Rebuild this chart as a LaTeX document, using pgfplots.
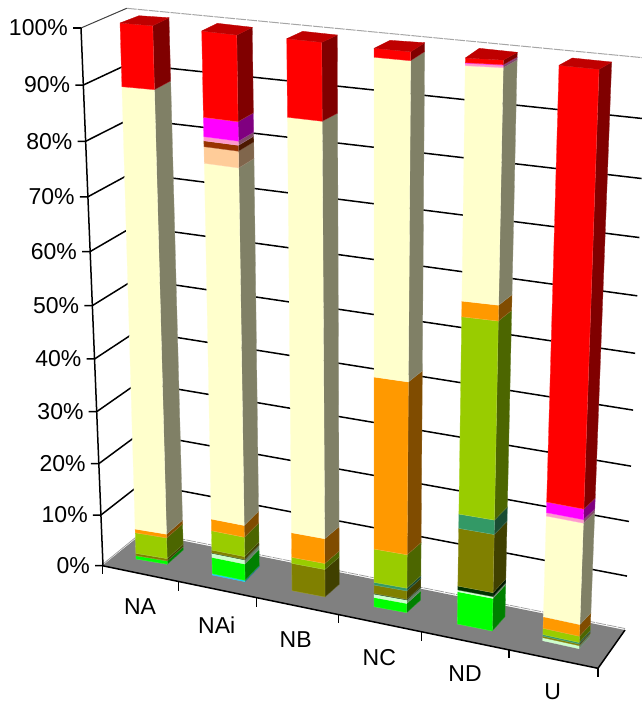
\documentclass[border=0pt]{standalone}
\usepackage{pgfplots}
\pgfplotsset{compat=1.18}
\usepackage{pgfplotstable}
\usepackage{fontspec}
\setmainfont{Liberation Sans}

% Series colours, bottom of the stack first
\definecolor{s1}{HTML}{00CCFF}
\definecolor{s2}{HTML}{00FF00}
\definecolor{s3}{HTML}{CCFFCC}
\definecolor{s4}{HTML}{003300}
\definecolor{s5}{HTML}{808000}
\definecolor{s6}{HTML}{339966}
\definecolor{s7}{HTML}{99CC00}
\definecolor{s8}{HTML}{FF9900}
\definecolor{s9}{HTML}{FFFFCC}
\definecolor{s10}{HTML}{FFCC99}
\definecolor{s11}{HTML}{993300}
\definecolor{s12}{HTML}{FF99CC}
\definecolor{s13}{HTML}{FF00FF}
\definecolor{s14}{HTML}{FF0000}

\tikzset{lab/.style={font=\fontsize{23}{25}\selectfont, text=black, inner sep=0pt}}

% Share of each series per category, in percent
\pgfplotstableread{
name c1   c2   c3   c4   c5    c6   c7    c8    c9    c10  c11  c12  c13  c14
NA   0    0.66 0    0    0.47  0    4.09  0.73  82.83 0    0    0    0    11.22
NAi  0.25 3.20 0.80 0.10 0.54  0    3.75  2.27  65.95 2.94 1.06 0.71 3.42 15.01
NB   0    0    0    0    5.28  0    1.15  4.71  75.40 0    0    0    0    13.46
NC   0    1.76 0.66 0.12 1.60  0.51 6.30  31.77 55.77 0    0    0    0    1.51
ND   0    6.07 0.32 0.74 10.71 2.63 35.43 2.75  40.08 0    0    0.39 0.10 0.78
U    0    0    0.56 0    0.30  0.29 1.15  2.14  18.35 0    0    0.61 1.91 74.69
}\bars

% Perspective foreshortening along the value axis
\def\persp{0.063}
\newcommand\prj[1]{\pgfmathsetmacro\F{(#1/100)*(1-\persp)/(1-\persp*#1/100)}}

% Bar frame: front-left, front-right and back-right edges (x,y at 0 and 100 percent),
% followed by the back-left corner of the top face
\newcommand\frontleft[4]{\def\lxa{#1}\def\lya{#2}\def\lxb{#3}\def\lyb{#4}}
\newcommand\frontright[4]{\def\mxa{#1}\def\mya{#2}\def\mxb{#3}\def\myb{#4}}
\newcommand\backright[4]{\def\rxa{#1}\def\rya{#2}\def\rxb{#3}\def\ryb{#4}}
\newcommand\edgepts{%
  \pgfmathsetmacro\nLx{\lxa+(\lxb-\lxa)*\F}\pgfmathsetmacro\nLy{\lya+(\lyb-\lya)*\F}%
  \pgfmathsetmacro\nMx{\mxa+(\mxb-\mxa)*\F}\pgfmathsetmacro\nMy{\mya+(\myb-\mya)*\F}%
  \pgfmathsetmacro\nRx{\rxa+(\rxb-\rxa)*\F}\pgfmathsetmacro\nRy{\rya+(\ryb-\rya)*\F}}
\newcommand\drawbar[3]{%
  \def\cum{0}\prj{0}\edgepts
  \let\Lx\nLx\let\Ly\nLy\let\Mx\nMx\let\My\nMy\let\Rx\nRx\let\Ry\nRy
  \pgfplotsforeachungrouped \k in {1,...,14}{%
    \edef\colname{c\k}%
    \pgfplotstablegetelem{#1}{\colname}\of\bars
    \let\val\pgfplotsretval
    \ifdim\val pt>0pt
      \pgfmathsetmacro\cum{\cum+\val}%
      \prj{\cum}\edgepts
      \edef\cmd{\noexpand\addplot[fill=s\k!50!black,draw=s\k!50!black!80!white,line width=.3pt,forget plot]
        coordinates {(\Mx,\My) (\Rx,\Ry) (\nRx,\nRy) (\nMx,\nMy) (\Mx,\My)};}\cmd
      \edef\cmd{\noexpand\addplot[fill=s\k,draw=s\k!75!white,line width=.3pt,forget plot]
        coordinates {(\Lx,\Ly) (\Mx,\My) (\nMx,\nMy) (\nLx,\nLy) (\Lx,\Ly)};}\cmd
      \let\Lx\nLx\let\Ly\nLy\let\Mx\nMx\let\My\nMy\let\Rx\nRx\let\Ry\nRy
    \fi}%
  \edef\cmd{\noexpand\addplot[fill=s14!75!black,draw=s14!75!black,line width=.3pt,forget plot]
    coordinates {(\lxb,\lyb) (\mxb,\myb) (\rxb,\ryb) (#2,#3) (\lxb,\lyb)};}\cmd
}

\begin{document}
\begin{tikzpicture}
\path[use as bounding box] (0,0) rectangle (642pt,702pt);
\begin{axis}[
  at={(0,0)}, anchor=south west,
  hide axis, scale only axis, width=642pt, height=702pt,
  xmin=0, xmax=642, ymin=0, ymax=702, y dir=reverse,
  clip=true,
]
% Floor
\addplot[fill=black!50, draw=none, forget plot] coordinates {(102.3,565.7) (143.2,532.7) (625,630) (598,668.3) (102.3,565.7)};

% Outlines of the walls
\addplot[black!35, line width=1pt, dash pattern=on 10pt off 1pt, forget plot] coordinates {(126.7,8.3) (646,58)};
\addplot[black!40, line width=.7pt, dash pattern=on 10pt off 1pt, forget plot] coordinates {(143.2,531.2) (625,628.5)};
\addplot[black!40, line width=.7pt, forget plot] coordinates {(103,564) (143.2,531.2)};
\addplot[black!75, line width=1pt, forget plot] coordinates {(81,28) (126.7,8.3)};

% Gridlines over side wall and back wall, with ticks and labels on the value axis
\pgfplotsforeachungrouped \v in {10,20,...,90}{%
  \prj{\v}%
  \pgfmathsetmacro\ax{103-22*\F}\pgfmathsetmacro\ay{565.7-537.7*\F}%
  \pgfmathsetmacro\bx{143.2-16.5*\F}\pgfmathsetmacro\by{532.7-524.4*\F}%
  \pgfmathsetmacro\cx{625+21*\F}\pgfmathsetmacro\cy{630-572*\F}%
  \pgfmathsetmacro\tx{\ax-8}%
  \edef\cmd{\noexpand\addplot[black,line width=1.5pt,forget plot] coordinates {(\tx,\ay) (\ax,\ay) (\bx,\by) (\cx,\cy)};}\cmd
}
\pgfplotsforeachungrouped \v in {0,10,...,100}{%
  \prj{\v}%
  \pgfmathsetmacro\lbx{103-22*\F-13}\pgfmathsetmacro\lby{565.7-537.7*\F}%
  \edef\cmd{\noexpand\node[lab,anchor=east] at (axis cs:\lbx,\lby) {\v\noexpand\%};}\cmd
}

% Value axis, category axis and the right floor edge
\addplot[black, line width=1.5pt, forget plot] coordinates {(81,28) (103,565.7)};
\addplot[black, line width=1.5pt, forget plot] coordinates {(73,28) (81,28)};
\addplot[black, line width=1.5pt, forget plot] coordinates {(95,565.7) (102.3,565.7) (598,668.3) (625,630)};
\addplot[black, line width=1.2pt, forget plot] coordinates {(102.3,565.7) (102.3,573.5)};
\addplot[black, line width=1.2pt, forget plot] coordinates {(178.7,581.5) (178.7,590.7)};
\addplot[black, line width=1.2pt, forget plot] coordinates {(256.7,597.6) (256.7,607)};
\addplot[black, line width=1.2pt, forget plot] coordinates {(338.3,614.5) (338.3,623.3)};
\addplot[black, line width=1.2pt, forget plot] coordinates {(421.7,631.7) (421.7,641)};
\addplot[black, line width=1.2pt, forget plot] coordinates {(509,649.8) (509,658)};
\addplot[black, line width=1.2pt, forget plot] coordinates {(598,668.3) (598,676.7)};

% Stacked columns
\frontleft{136}{559}{120}{23}\frontright{167.3}{564.3}{152.7}{25.7}\backright{183.3}{550}{169}{17.7}
\drawbar{0}{139}{15.7}
\frontleft{212.3}{575}{201.7}{31}\frontright{245}{581.7}{236.7}{35}\backright{259.3}{566.7}{252.3}{27.3}
\drawbar{1}{217.3}{23.3}
\frontleft{292}{590.7}{286.7}{38.7}\frontright{325}{597}{321.7}{42.3}\backright{339.3}{584.3}{337.3}{35}
\drawbar{2}{302.7}{31.3}
\frontleft{374}{606.7}{374}{48.3}\frontright{406.7}{612.7}{410.7}{51.7}\backright{420.7}{600}{424.7}{42.7}
\drawbar{3}{390}{40.3}
\frontleft{457.3}{624}{465.3}{58}\frontright{492.3}{631}{503.3}{60}\backright{505}{616.7}{517.3}{52.3}
\drawbar{4}{479.3}{48.3}
\frontleft{542.7}{640.7}{559}{65.3}\frontright{579}{648.7}{599}{69.3}\backright{590}{636.7}{611.7}{62}
\drawbar{5}{572.3}{58}

% Category labels
\node[lab] at (axis cs:140,606.7) {NA};
\node[lab] at (axis cs:216.7,625) {NAi};
\node[lab] at (axis cs:295.7,640) {NB};
\node[lab] at (axis cs:379.3,657.3) {NC};
\node[lab] at (axis cs:465,674) {ND};
\node[lab] at (axis cs:552.7,691.5) {U};
\end{axis}
\end{tikzpicture}
\end{document}
